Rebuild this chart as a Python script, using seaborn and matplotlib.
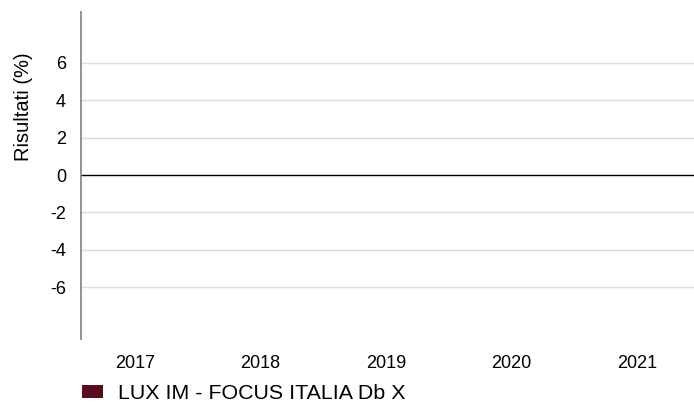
import numpy as np
import pandas as pd
import matplotlib
matplotlib.use('Agg')
import matplotlib.pyplot as plt
import seaborn as sns
from matplotlib.patches import Patch

# Data (no annual results shown in the reference)
years = ['2017', '2018', '2019', '2020', '2021']
results = [np.nan, np.nan, np.nan, np.nan, np.nan]
fund_name = 'LUX IM - FOCUS ITALIA Db X'
y_ticks = [-6, -4, -2, 0, 2, 4, 6]
y_tick_labels = ['-6', '-4', '-2', '0', '2', '4', '6']

bar_color = '#5b0b1e'

sns.set_style('white')
plt.rcParams['font.family'] = ['Liberation Sans', 'DejaVu Sans']
plt.rcParams['text.color'] = 'black'
plt.rcParams['xtick.labelcolor'] = 'black'
plt.rcParams['ytick.labelcolor'] = 'black'
plt.rcParams['axes.labelcolor'] = 'black'

df = pd.DataFrame({'Anno': years, 'Risultati': results})

fig = plt.figure(figsize=(6.94, 4.03), dpi=100)
ax = fig.add_axes([80.7 / 694, 64 / 403, (694 - 80.7) / 694, (339 - 12) / 403])

sns.barplot(data=df, x='Anno', y='Risultati', order=years, color=bar_color, ax=ax)

ax.set_xlim(-0.433, 4.454)
ax.set_ylim(-8.76, 8.71)

# grid + zero line
for t in y_ticks:
    if t == 0:
        ax.axhline(t, color='black', lw=1.0, zorder=1)
    else:
        ax.axhline(t, color='#dcdcdc', lw=1.0, zorder=0)

for side in ['top', 'right', 'bottom']:
    ax.spines[side].set_visible(False)
ax.spines['left'].set_color('#8a8a8a')
ax.spines['left'].set_linewidth(1.3)

ax.set_yticks(y_ticks)
ax.set_yticklabels(y_tick_labels)
ax.tick_params(axis='y', length=3.6, width=1, color='#8a8a8a', pad=7, labelsize=13,
               labelcolor='black')
ax.tick_params(axis='x', length=0, pad=11.5, labelsize=13, labelcolor='black')

ax.set_xlabel('')
ax.set_ylabel('Risultati (%)', fontsize=14.5, color='black')
ax.yaxis.set_label_coords(-0.078, 0.709)

fig.legend(handles=[Patch(facecolor=bar_color, edgecolor='none', label=fund_name)],
           loc='lower left', bbox_to_anchor=(82 / 694, 0.0), frameon=False,
           fontsize=15.4, borderpad=0, borderaxespad=0,
           handlelength=1.0, handleheight=0.6, handletextpad=0.68)

fig.savefig('out.png', dpi=100)
